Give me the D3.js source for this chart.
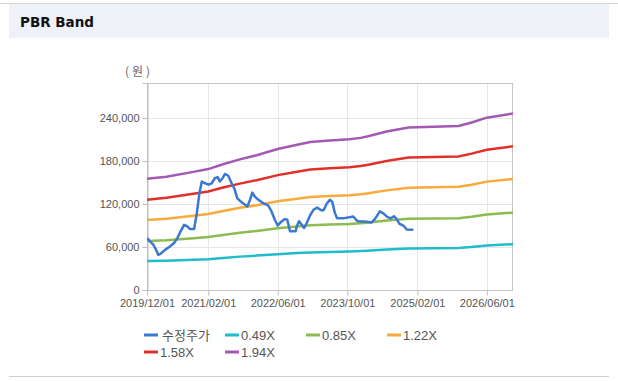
<!DOCTYPE html>
<html><head><meta charset="utf-8">
<script src="https://cdn.jsdelivr.net/npm/d3@7"></script>
<style>
html,body{margin:0;padding:0;background:#fff;}
svg{display:block;}
</style></head>
<body>
<svg id="chart" width="618" height="381"></svg>
<script>
// ---- data ----
const priceDates = ["2019-12-03","2019-12-22","2020-01-14","2020-02-03","2020-02-18","2020-03-05","2020-04-05","2020-05-09","2020-06-07","2020-06-30","2020-07-23","2020-08-16","2020-09-08","2020-09-27","2020-10-25","2020-11-13","2020-12-01","2020-12-18","2021-01-10","2021-02-03","2021-02-25","2021-03-19","2021-04-08","2021-04-23","2021-05-12","2021-05-28","2021-06-21","2021-07-14","2021-08-02","2021-08-23","2021-09-16","2021-10-09","2021-11-01","2021-11-20","2021-12-06","2021-12-25","2022-01-17","2022-02-21","2022-03-26","2022-04-19","2022-05-12","2022-06-01","2022-06-24","2022-07-21","2022-08-07","2022-08-26","2022-09-18","2022-10-05","2022-10-12","2022-10-28","2022-11-16","2022-12-02","2022-12-21","2023-01-13","2023-02-06","2023-03-04","2023-04-04","2023-04-20","2023-05-08","2023-06-01","2023-06-17","2023-07-05","2023-07-21","2023-09-02","2023-11-11","2023-12-05","2023-12-23","2024-02-01","2024-03-18","2024-04-10","2024-05-15","2024-06-08","2024-07-05","2024-07-29","2024-08-21","2024-09-10","2024-09-28","2024-10-26","2024-11-19","2025-01-04"];
const priceValues = [72500,67800,63200,56000,49000,50600,56000,60800,65600,72500,81800,91000,88700,85000,85000,107000,135000,151500,149000,147000,149000,156000,157600,151500,156000,162000,159500,149000,142000,128000,123600,120000,116700,126000,136000,130000,126000,121000,118000,109700,98000,90000,95000,99000,98000,82000,82000,82000,88700,96000,91000,86500,93500,104000,112000,115000,111000,112000,120000,126000,123000,108000,100000,100000,102700,97000,95500,95700,94300,99000,109700,107000,102000,100000,103000,99000,92500,90000,84500,84000];

const bandDates = ["2019-12-01","2020-04-15","2020-10-20","2021-02-01","2021-05-15","2021-09-10","2022-01-05","2022-06-01","2022-10-15","2023-01-15","2023-06-01","2023-10-15","2024-01-01","2024-02-15","2024-07-01","2024-12-01","2025-11-15","2026-02-15","2026-06-01","2026-12-01"];
const band049 = [40500,41000,42300,43000,44800,46600,48000,50000,51500,52500,53000,53800,54300,54800,56600,57800,58800,60200,62000,64000];
const band085 = [68500,69300,72300,74000,76900,79900,82500,86300,88800,90500,91400,92200,93100,93900,96900,99500,100300,102400,105400,108000];
const band122 = [97600,99400,103700,106100,110400,114700,118300,123800,127500,129900,131200,132400,133600,134800,139100,142700,144000,147000,151300,155000];
const band158 = [126000,128800,134300,137500,143000,148500,153300,160400,165100,168300,169900,171400,173000,174600,180100,184900,186400,190400,195900,200700];
const band194 = [155200,158100,164900,168800,175600,182400,188200,196900,202700,206600,208600,210500,212400,214400,221200,227000,228900,233800,240600,246400];

const seriesNames = ["수정주가","0.49X","0.85X","1.22X","1.58X","1.94X"];
const seriesColors = ["#3a78d2","#1fbcca","#8cbc50","#f8aa3a","#e0302a","#a259b4"];

const xTickLabels = ["2019/12/01","2021/02/01","2022/06/01","2023/10/01","2025/02/01","2026/06/01"];
const yTickValues = [0,60000,120000,180000,240000];
const xDomain = ["2019-12-01","2026-12-01"];
const yMax = 289000;

// ---- layout ----
const svg = d3.select("#chart");
const W = 618, H = 381;
const plot = {l:147, r:513, t:83, b:290};
const parse = d3.timeParse("%Y-%m-%d");
const parseTick = d3.timeParse("%Y/%m/%d");

// frame
svg.append("line").attr("x1",0).attr("x2",W).attr("y1",3.5).attr("y2",3.5).attr("stroke","#d4d4d4");
svg.append("rect").attr("x",9).attr("y",4).attr("width",600).attr("height",34).attr("fill","#eef2f8");
svg.append("line").attr("x1",9).attr("x2",609).attr("y1",376.5).attr("y2",376.5).attr("stroke","#cfcfcf");
svg.append("text").attr("x",20).attr("y",27).text("PBR Band")
  .attr("font-family","'DejaVu Sans', Verdana, sans-serif").attr("font-weight","bold")
  .attr("font-size",13.5).attr("fill","#111");

const x = d3.scaleTime().domain(xDomain.map(parse)).range([plot.l, plot.r]);
const y = d3.scaleLinear().domain([0, yMax]).range([plot.b, plot.t]);

const g = svg.append("g");
// gridlines
const xTicks = xTickLabels.map(parseTick);
g.selectAll(".vg").data(xTicks).enter().append("line")
  .attr("x1",d=>Math.round(x(d))+0.5).attr("x2",d=>Math.round(x(d))+0.5)
  .attr("y1",plot.t).attr("y2",plot.b).attr("stroke","#e6e6e6");
g.selectAll(".hg").data(yTickValues).enter().append("line")
  .attr("x1",plot.l).attr("x2",plot.r)
  .attr("y1",d=>Math.round(y(d))+0.5).attr("y2",d=>Math.round(y(d))+0.5).attr("stroke","#e6e6e6");
// border
g.append("rect").attr("x",plot.l+0.5).attr("y",plot.t+0.5).attr("width",plot.r-plot.l-1).attr("height",plot.b-plot.t)
  .attr("fill","none").attr("stroke","#c4c4c4");

// axes
const fmt = d3.format(",");
const yAxis = d3.axisLeft(y).tickValues(yTickValues).tickFormat(fmt).tickSize(5).tickPadding(3);
const yg = svg.append("g").attr("transform",`translate(${plot.l+0.5},0)`).call(yAxis);
const xAxis = d3.axisBottom(x).tickValues(xTicks).tickFormat(d3.timeFormat("%Y/%m/%d")).tickSize(5).tickPadding(4);
const xg = svg.append("g").attr("transform",`translate(0,${plot.b+0.5})`).call(xAxis);
[yg,xg].forEach(a=>{
  a.select(".domain").attr("stroke","#bdbdbd");
  a.selectAll(".tick line").attr("stroke","#bdbdbd");
  a.selectAll("text").attr("font-family","'Liberation Sans', Arial, sans-serif").attr("font-size",11).attr("fill","#555");
});
xg.select(".domain").remove();

svg.append("text").attr("x",125).attr("y",76).text("(원)")
  .attr("font-family","'Noto Sans CJK KR', sans-serif").attr("font-size",12)
  .attr("letter-spacing",3).attr("fill","#666");

// lines
const line = d3.line().x(d=>x(d[0])).y(d=>y(d[1]));
const bands = [band049, band085, band122, band158, band194];
const clip = svg.append("clipPath").attr("id","clp").append("rect")
  .attr("x",plot.l).attr("y",plot.t).attr("width",plot.r-plot.l).attr("height",plot.b-plot.t);
const lg = svg.append("g").attr("clip-path","url(#clp)");
bands.forEach((b,i)=>{
  lg.append("path").datum(bandDates.map((d,j)=>[parse(d), b[j]]))
    .attr("d",line).attr("fill","none").attr("stroke",seriesColors[i+1]).attr("stroke-width",2.5);
});
lg.append("path").datum(priceDates.map((d,j)=>[parse(d), priceValues[j]]))
  .attr("d",line).attr("fill","none").attr("stroke",seriesColors[0]).attr("stroke-width",2.5)
  .attr("stroke-linejoin","round");

// legend
const legPos = [[144,335],[225,335],[306,335],[387,335],[144,352],[225,352]];
seriesNames.forEach((n,i)=>{
  const [lx,ly] = legPos[i];
  svg.append("line").attr("x1",lx).attr("x2",lx+14).attr("y1",ly).attr("y2",ly)
    .attr("stroke",seriesColors[i]).attr("stroke-width",3);
  svg.append("text").attr("x",lx+ (i===0?18:16)).attr("y",ly+5).text(n)
    .attr("font-family", i===0 ? "'Noto Sans CJK KR', sans-serif" : "'Liberation Sans', Arial, sans-serif")
    .attr("font-size",13).attr("fill","#555");
});
</script>
</body></html>
